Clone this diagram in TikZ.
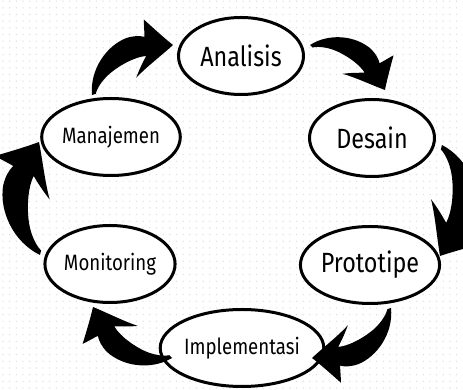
\documentclass[tikz,border=0pt]{standalone}
\usepackage{fontspec}
\setmainfont[FakeStretch=0.84]{Fira Sans}
\usetikzlibrary{shapes.geometric,calc}

\definecolor{dotgrey}{HTML}{DCDCDC}

\tikzset{
  phase/.style={ellipse, draw=black, line width=3pt, fill=white,
    minimum width=125pt, minimum height=77pt, inner sep=0pt},
  bigtext/.style={font=\fontsize{27.8}{30}\selectfont},
  smalltext/.style={font=\fontsize{22.2}{24}\selectfont},
  % tapered curved arrow, tail at (0,0), tip at (100,0), bulging to the left
  swoosh/.pic={
    \fill[black]
      (0,0) .. controls (12,24) and (40,36) .. (62,32)
      .. controls (70,30) and (75,27) .. (79,23)
      .. controls (82,28) and (85,34) .. (88,39)
      .. controls (92,25) and (96,11) .. (100,0)
      .. controls (84,-3) and (64,-5) .. (49,-9)
      .. controls (58,-2) and (65,2) .. (70,5)
      .. controls (60,10) and (45,11) .. (33,10)
      .. controls (20,9) and (9,4) .. (4,-1)
      -- cycle;
  }
}

% place a swoosh from one named point to another
\newcommand\swoosh[2]{%
  \path (#1); \pgfgetlastxy{\swx}{\swy}%
  \path (#2); \pgfgetlastxy{\swX}{\swY}%
  \pgfmathsetmacro\swang{atan2(\swY-\swy,\swX-\swx)}%
  \pgfmathsetmacro\swlen{veclen(\swX-\swx,\swY-\swy)/100}%
  \pic[rotate=\swang, scale=\swlen] at (#1) {swoosh};}

\begin{document}
\begin{tikzpicture}[x=1pt,y=1pt]
  \useasboundingbox (0,0) rectangle (463,390);
  \clip (0,0) rectangle (463,390);
  \fill[white] (0,0) rectangle (463,390);

  % faint dotted paper
  \foreach \i in {0,...,69}
    \foreach \j in {0,...,58}
      \fill[dotgrey] (3+\i*6.67, 2+\j*6.67) circle (0.7);

  % phases of the cycle
  \node[phase, bigtext]   (ana) at (241,334) {Analisis};
  \node[phase, bigtext]   (des) at (372,252) {Desain};
  \node[phase, bigtext]   (pro) at (370,125) {Prototipe};
  \node[phase, smalltext] (imp) at (242,42)  {Implementasi};
  \node[phase, smalltext] (mon) at (110,126) {Monitoring};
  \node[phase, smalltext] (man) at (111,253) {Manajemen};

  % arrow end points next to each ellipse
  \coordinate (a1s) at ($(man)+(-19,42)$);
  \coordinate (a1e) at ($(ana)+(-68,11)$);
  \coordinate (a2s) at ($(ana)+(69,11)$);
  \coordinate (a2e) at ($(des)+(13,48)$);
  \coordinate (a3s) at ($(des)+(70,-7)$);
  \coordinate (a3e) at ($(pro)+(70,9)$);
  \coordinate (a4s) at ($(pro)+(21,-43)$);
  \coordinate (a4e) at ($(imp)+(70,-10)$);
  \coordinate (a5s) at ($(imp)+(-70,-10)$);
  \coordinate (a5e) at ($(mon)+(-17,-43)$);
  \coordinate (a6s) at ($(mon)+(-70,9)$);
  \coordinate (a6e) at ($(man)+(-72,-5)$);

  \swoosh{a1s}{a1e}
  \swoosh{a2s}{a2e}
  \swoosh{a3s}{a3e}
  \swoosh{a4s}{a4e}
  \swoosh{a5s}{a5e}
  \swoosh{a6s}{a6e}
\end{tikzpicture}
\end{document}
